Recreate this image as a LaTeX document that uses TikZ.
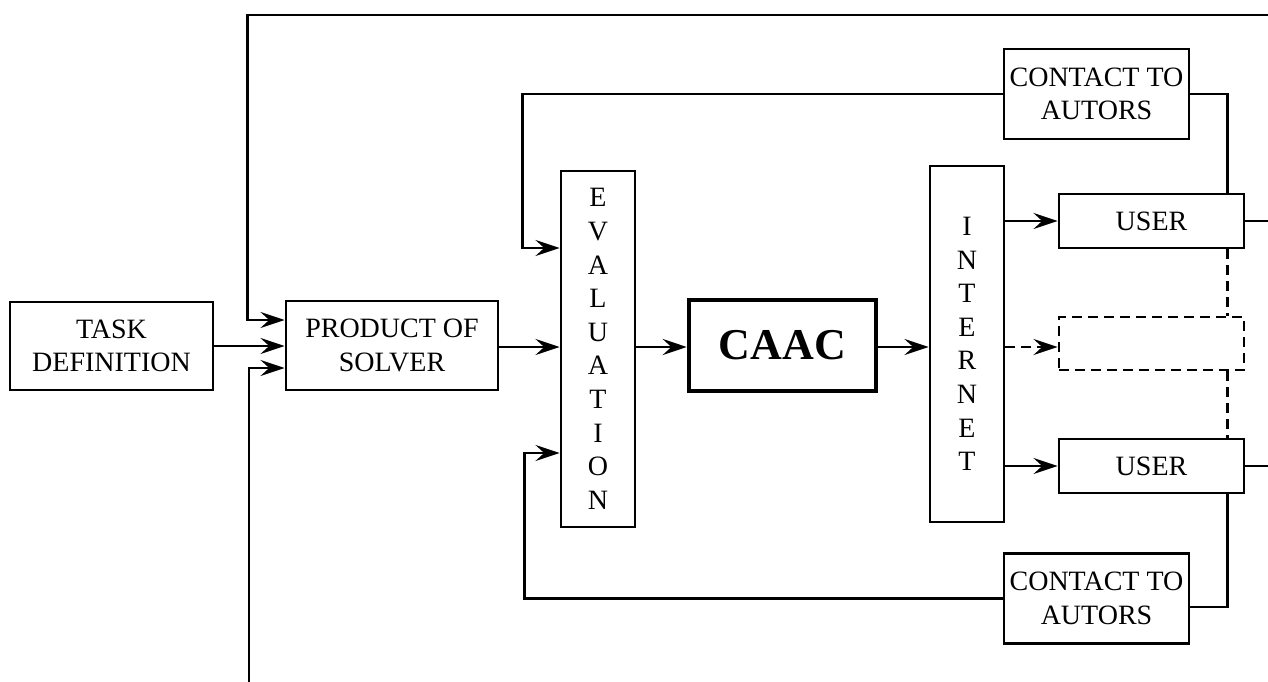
\documentclass[tikz,border=0pt]{standalone}
\usepackage{fontspec}
\setmainfont{Liberation Serif}
\usetikzlibrary{arrows.meta,calc}
\tikzset{
x=0.75pt, y=-0.75pt,
every node/.style={font=\fontsize{21}{25.2}\selectfont, align=center, inner sep=0pt},
block/.style={draw=black, line width=2.2pt, rectangle},
vblock/.style={block, minimum width=55.5pt, minimum height=267pt},
userbox/.style={block, minimum width=138.75pt, minimum height=40.5pt},
contactbox/.style={block, minimum width=138.75pt, minimum height=67.5pt},
link/.style={line width=2.2pt, draw=black},
arr/.style={link, -{Stealth[length=18pt, width=12pt, inset=6.5pt]}},
dashline/.style={dashed, dash pattern=on 7.5pt off 4.5pt},
}
\tikzstyle{big} = [block, line width=3.4pt, font=\fontsize{33}{40}\selectfont\bfseries]

\begin{document}
\begin{tikzpicture}
\useasboundingbox (0,0) rectangle (1268,682);
\node[block, minimum width=152.25pt, minimum height=66pt] (task) at (111.5,346) {TASK\\DEFINITION};
\node[block, minimum width=159pt, minimum height=66.75pt] (product) at (392,345.5) {PRODUCT OF\\SOLVER};
\node[vblock] (eval) at (598,349) {E\\V\\A\\L\\U\\A\\T\\I\\O\\N};
\node[big, minimum width=140.25pt, minimum height=68.25pt] (caac) at (782.5,345.5) {CAAC};
\node[vblock] (inet) at (967,344) {I\\N\\T\\E\\R\\N\\E\\T};
\node[userbox] (user1) at (1151.5,221) {USER};
\node[block, dashline, minimum width=138.75pt, minimum height=39.75pt] (dummy) at (1151.5,343.5) {};
\node[userbox] (user2) at (1151.5,466) {USER};
\node[contactbox] (contact1) at (1096.5,94) {CONTACT TO\\AUTORS};
\node[contactbox] (contact2) at (1096.5,598.5) {CONTACT TO\\AUTORS};
\coordinate (fbT) at (1268,15);
\coordinate (fbB) at (249,682);
\coordinate (out1) at (1268,221);
\coordinate (out2) at (1268,466);

\draw[arr] (fbT) -| ($(product.west)+(-37,-25.5)$) -- ($(product.west)+(0,-25.5)$);
\draw[arr] (fbB) |- ($(product.west)+(0,22.5)$);
\draw[arr] (task.east) -- (task.east -| product.west);
\draw[arr] (product.east |- 0,347) -- (eval.west |- 0,347);
\draw[arr] (eval.east |- 0,347) -- (caac.west |- 0,347);
\draw[arr] (caac.east |- 0,347) -- (inet.west |- 0,347);
\draw[arr] (inet.east |- user1.west) -- (user1.west);
\draw[arr, dashline] (inet.east |- 0,347) -- (dummy.west |- 0,347);
\draw[arr] (inet.east |- user2.west) -- (user2.west);
\draw[link] (user1.east) -- (out1);
\draw[link] (user2.east) -- (out2);

\draw[link] ($(user1.north east)+(-18,0)$) |- (contact1.east);
\draw[arr] (contact1.west) -| ($(eval.west)+(-37,-101)$) -- ($(eval.west)+(0,-101)$);
\draw[link] ($(user2.south east)+(-18,0)$) |- ($(contact2.east)+(0,8.5)$);
\draw[arr] (contact2.west) -| ($(eval.west)+(-35,104)$) -- ($(eval.west)+(0,104)$);

\draw[link, dashline] ($(user1.south east)+(-18,0)$) -- ($(dummy.north east)+(-18,0)$);
\draw[link, dashline] ($(dummy.south east)+(-18,0)$) -- ($(user2.north east)+(-18,0)$);
\end{tikzpicture}
\end{document}
